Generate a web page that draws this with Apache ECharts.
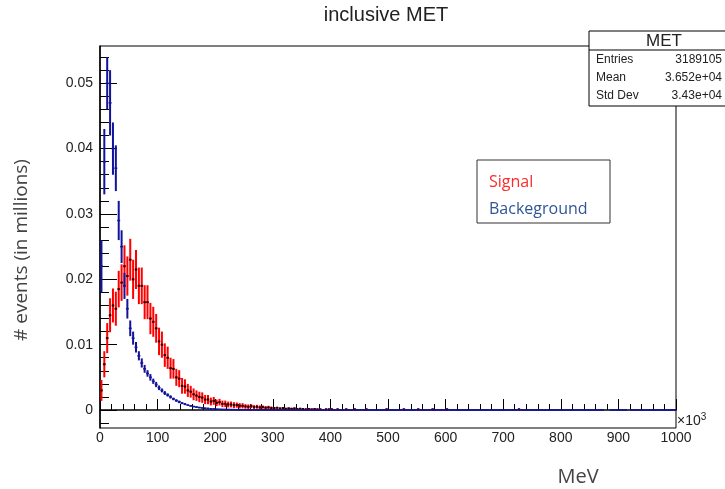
<!DOCTYPE html>
<html>
<head>
<meta charset="utf-8">
<script src="https://cdn.jsdelivr.net/npm/echarts@6/dist/echarts.min.js"></script>
<style>
  html, body { margin: 0; padding: 0; background: #fff; }
  #chart { width: 725px; height: 489px; }
</style>
</head>
<body>
<div id="chart"></div>
<script>
// histogram: 200 bins of 5 (x10^3 MeV) from 0 to 1000
const binWidth = 5;
const binCount = 200;

// values in units of 1e-3 (millions of events)
const signalVals = [
  3, 7, 11, 14.5, 16, 15.5, 18.5, 19.5, 22, 20.5,
  23, 20, 21.5, 19, 19, 16.5, 16.5, 14, 13.5, 12.5,
  10.5, 10, 8.4, 8, 6.4, 6.3, 5.0, 4.8, 3.7, 3.6,
  3.0, 2.8, 2.4, 2.2, 2.0, 1.9, 1.6, 1.6, 1.3, 1.4,
  1.1, 1.2, 0.95, 0.95, 0.85, 0.85, 0.75, 0.75, 0.65, 0.65,
  0.55, 0.5, 0.6, 0.45, 0.5, 0.4, 0.45, 0.35, 0.4, 0.3,
  0.3, 0.35, 0.25, 0.3, 0.2, 0.25, 0.2, 0.25, 0.15, 0.2,
  0.15, 0.1, 0.15, 0.1, 0.15, 0.1, 0.1, 0, 0.1, 0.1,
  0.1, 0, 0.1, 0, 0, 0.1, 0, 0, 0.1, 0,
  0, 0, 0.1, 0, 0, 0, 0, 0, 0, 0.1,
  0, 0, 0, 0, 0, 0.1, 0, 0, 0, 0,
  0.1, 0, 0, 0, 0, 0.1, 0, 0, 0, 0,
  0.1, 0, 0, 0, 0, 0, 0, 0, 0, 0,
  0, 0, 0, 0, 0, 0, 0, 0, 0, 0,
  0, 0, 0, 0, 0, 0.1, 0, 0, 0, 0,
  0, 0, 0, 0, 0, 0, 0, 0, 0, 0,
  0, 0, 0, 0, 0, 0, 0, 0, 0, 0,
  0, 0, 0, 0, 0, 0, 0, 0, 0, 0,
  0, 0, 0, 0, 0, 0, 0, 0, 0, 0,
  0, 0, 0, 0, 0, 0, 0, 0, 0, 0
];
const signalErr = [
  1.6, 2, 2.3, 2.6, 2.6, 2.6, 2.8, 2.8, 3.2, 3,
  3.2, 3, 3, 2.8, 2.8, 2.6, 2.6, 2.4, 2.3, 2.2,
  2.1, 2, 1.8, 1.7, 1.6, 1.5, 1.3, 1.3, 1.2, 1.1,
  1.0, 0.9, 0.9, 0.8, 0.8, 0.8, 0.7, 0.7, 0.6, 0.6,
  0.5, 0.5, 0.5, 0.5, 0.45, 0.45, 0.45, 0.4, 0.4, 0.4,
  0.35, 0.35, 0.3, 0.3, 0.3, 0.3, 0.25, 0.25, 0.25, 0.25
];

const backgroundVals = [
  22, 38, 50, 47, 40, 37, 29, 25, 19, 15.5,
  12.5, 11, 9.6, 8.3, 7.2, 6.3, 5.6, 5.0, 4.4, 3.9,
  3.4, 3.0, 2.6, 2.3, 2.0, 1.7, 1.45, 1.25, 1.05, 0.9,
  0.75, 0.63, 0.53, 0.45, 0.38, 0.32, 0.27, 0.23, 0.19, 0.16,
  0.14, 0.12, 0.10, 0.09, 0.08, 0.07, 0.06, 0.05, 0.05, 0.04,
  0.04, 0.03, 0.03, 0.03, 0.03, 0.02, 0.02, 0.02, 0.02, 0.02,
  0.02, 0.02, 0.02, 0.02, 0.02, 0.02, 0.02, 0.02, 0.02, 0.02,
  0.01, 0.01, 0.01, 0.01, 0.01, 0.01, 0.01, 0.01, 0.01, 0.01,
  0.01, 0.01, 0.01, 0.01, 0.01, 0.01, 0.01, 0.01, 0.01, 0.01,
  0.01, 0.01, 0.01, 0.01, 0.01, 0.01, 0.01, 0.01, 0.01, 0.01,
  0.01, 0.01, 0.01, 0.01, 0.01, 0.01, 0.01, 0.01, 0.01, 0.01,
  0.01, 0.01, 0.01, 0.01, 0.01, 0.01, 0.01, 0.01, 0.01, 0.01,
  0.01, 0.01, 0.01, 0.01, 0.01, 0.01, 0.01, 0.01, 0.01, 0.01,
  0.01, 0.01, 0.01, 0.01, 0.01, 0.01, 0.01, 0.01, 0.01, 0.01,
  0.01, 0.01, 0.01, 0.01, 0.01, 0.01, 0.01, 0.01, 0.01, 0.01,
  0.01, 0.01, 0.01, 0.01, 0.01, 0.01, 0.01, 0.01, 0.01, 0.01,
  0.01, 0.01, 0.01, 0.01, 0.01, 0.01, 0.01, 0.01, 0.01, 0.01,
  0.01, 0.01, 0.01, 0.01, 0.01, 0, 0, 0.01, 0.01, 0.01,
  0.01, 0.01, 0.01, 0, 0.01, 0.01, 0.01, 0.01, 0.01, 0.01,
  0.01, 0.01, 0.01, 0.01, 0.01, 0.01, 0.01, 0.01, 0.01, 0.01
];
const backgroundErr = [
  4, 5, 4, 5, 4, 3.5, 3, 2.5, 2, 1.5,
  1.2, 1, 0.8, 0.7, 0.7, 0.6, 0.5, 0.5, 0.4, 0.4,
  0.35, 0.3, 0.3, 0.25, 0.25, 0.2, 0.2, 0.2, 0.15, 0.15,
  0.1, 0.1, 0.1, 0.1, 0.1, 0.1, 0.1, 0.1, 0.1, 0.1
];

const xTicks = [0, 100, 200, 300, 400, 500, 600, 700, 800, 900, 1000];
const yTicks = [0, 0.01, 0.02, 0.03, 0.04, 0.05];

const statsRows = [
  ["Entries", "3189105"],
  ["Mean", "3.652e+04"],
  ["Std Dev", "3.43e+04"]
];

// minor y ticks, 5 per major division
const yMinor = [];
for (let k = -1; k <= 27; k++) yMinor.push(+(k * 0.002).toFixed(4));

function toBins(vals, errs, fallbackErr) {
  const out = [];
  for (let i = 0; i < binCount; i++) {
    const v = vals[i] || 0;
    if (v <= 0) continue;
    const e = errs[i] !== undefined ? errs[i] : fallbackErr;
    out.push([i * binWidth, (i + 1) * binWidth, v / 1000, e / 1000]);
  }
  return out;
}

function binRenderer(color, dot) {
  return function (params, api) {
    const x0 = api.value(0), x1 = api.value(1), y = api.value(2), e = api.value(3);
    const xc = (x0 + x1) / 2;
    const pl = api.coord([x0, y]);
    const pr = api.coord([x1, y]);
    const pt = api.coord([xc, y + e]);
    const pb = api.coord([xc, y - e]);
    const children = [
      { type: 'line', shape: { x1: pl[0], y1: pl[1], x2: pr[0], y2: pr[1] }, style: { stroke: color, lineWidth: 1.6 } },
      { type: 'line', shape: { x1: pt[0], y1: pt[1], x2: pb[0], y2: pb[1] }, style: { stroke: color, lineWidth: 2 } }
    ];
    if (dot) {
      children.push({ type: 'rect', shape: { x: pt[0] - 1, y: pl[1] - 1, width: 2, height: 2 }, style: { fill: '#000' } });
    }
    return { type: 'group', children: children };
  };
}

const chart = echarts.init(document.getElementById('chart'));

const yBase = {
  type: 'value',
  min: -0.00275,
  max: 0.0557,
  splitLine: { show: false }
};

chart.setOption({
  animation: false,
  grid: { left: 100, right: 49, top: 46, bottom: 61, show: true, borderColor: '#000', borderWidth: 1 },
  xAxis: {
    type: 'value',
    min: 0,
    max: 1000,
    interval: 100,
    axisLine: { lineStyle: { color: '#000', width: 1.5 } },
    axisTick: { inside: true, length: 11, lineStyle: { color: '#000' } },
    minorTick: { show: true, splitNumber: 5, length: 6, lineStyle: { color: '#000' } },
    axisLabel: {
      color: '#222', fontFamily: 'Liberation Sans', fontSize: 14, margin: 3, customValues: xTicks,
      formatter: function (v) { return String(v); }
    },
    splitLine: { show: false }
  },
  yAxis: [
    Object.assign({}, yBase, {
      axisLine: { show: true, lineStyle: { color: '#000', width: 1.5 } },
      axisTick: { show: true, inside: true, length: 17, customValues: yTicks, lineStyle: { color: '#000' } },
      axisLabel: { color: '#222', fontFamily: 'Liberation Sans', fontSize: 14, margin: 7, customValues: yTicks }
    }),
    Object.assign({}, yBase, {
      position: 'left',
      axisLine: { show: false },
      axisTick: { show: true, inside: true, length: 9, customValues: yMinor, lineStyle: { color: '#000' } },
      axisLabel: { show: false }
    })
  ],
  series: [
    {
      type: 'custom',
      name: 'Signal',
      clip: true,
      renderItem: binRenderer('#ff0000', true),
      encode: { x: [0, 1], y: [2] },
      data: toBins(signalVals, signalErr, 0.1)
    },
    {
      type: 'custom',
      name: 'Backeground',
      clip: true,
      renderItem: binRenderer('#12129a', false),
      encode: { x: [0, 1], y: [2] },
      data: toBins(backgroundVals, backgroundErr, 0.02)
    }
  ],
  graphic: [
    { type: 'text', x: 386, y: 15, style: { text: 'inclusive MET', fontFamily: 'Liberation Sans', fontSize: 20, fill: '#222', align: 'center', verticalAlign: 'middle' } },
    {
      type: 'text', x: 22, y: 250, rotation: Math.PI / 2,
      style: { text: '# events (in millions)', fontFamily: 'Open Sans', fontSize: 19, fill: '#444', align: 'center', verticalAlign: 'middle' }
    },
    { type: 'text', x: 578, y: 477, style: { text: 'MeV', fontFamily: 'Open Sans', fontSize: 20, fill: '#444', align: 'center', verticalAlign: 'middle' } },
    {
      type: 'text', x: 677, y: 421,
      style: { text: '×10{s|3}', fontFamily: 'Liberation Sans', fontSize: 14, fill: '#222', verticalAlign: 'middle',
        rich: { s: { fontSize: 10, verticalAlign: 'top', padding: [0, 0, 8, 0], fontFamily: 'Liberation Sans', fill: '#222' } } }
    },
    // stats box
    { type: 'rect', shape: { x: 589, y: 31, width: 140, height: 75 }, style: { fill: '#fff', stroke: '#000', lineWidth: 1 }, z: 100 },
    { type: 'line', shape: { x1: 589, y1: 50, x2: 725, y2: 50 }, style: { stroke: '#000', lineWidth: 1 }, z: 101 },
    { type: 'text', x: 664, y: 41, z: 101, style: { text: 'MET', fontFamily: 'Liberation Sans', fontSize: 17, fill: '#222', align: 'center', verticalAlign: 'middle' } },
    ...statsRows.flatMap(function (row, i) {
      const yy = 60 + i * 18;
      return [
        { type: 'text', x: 596, y: yy, z: 101, style: { text: row[0], fontFamily: 'Liberation Sans', fontSize: 12, fill: '#222', verticalAlign: 'middle' } },
        { type: 'text', x: 722, y: yy, z: 101, style: { text: row[1], fontFamily: 'Liberation Sans', fontSize: 12, fill: '#222', align: 'right', verticalAlign: 'middle' } }
      ];
    }),
    // legend box
    { type: 'rect', shape: { x: 477, y: 160, width: 133, height: 63 }, style: { fill: '#fff', stroke: '#333', lineWidth: 1 }, z: 100 },
    { type: 'text', x: 489, y: 182, z: 101, style: { text: 'Signal', fontFamily: 'Open Sans', fontSize: 16, fill: '#ff2a2a', verticalAlign: 'middle' } },
    { type: 'text', x: 489, y: 209, z: 101, style: { text: 'Backeground', fontFamily: 'Open Sans', fontSize: 16, fill: '#2f5597', verticalAlign: 'middle' } }
  ]
});
</script>
</body>
</html>
